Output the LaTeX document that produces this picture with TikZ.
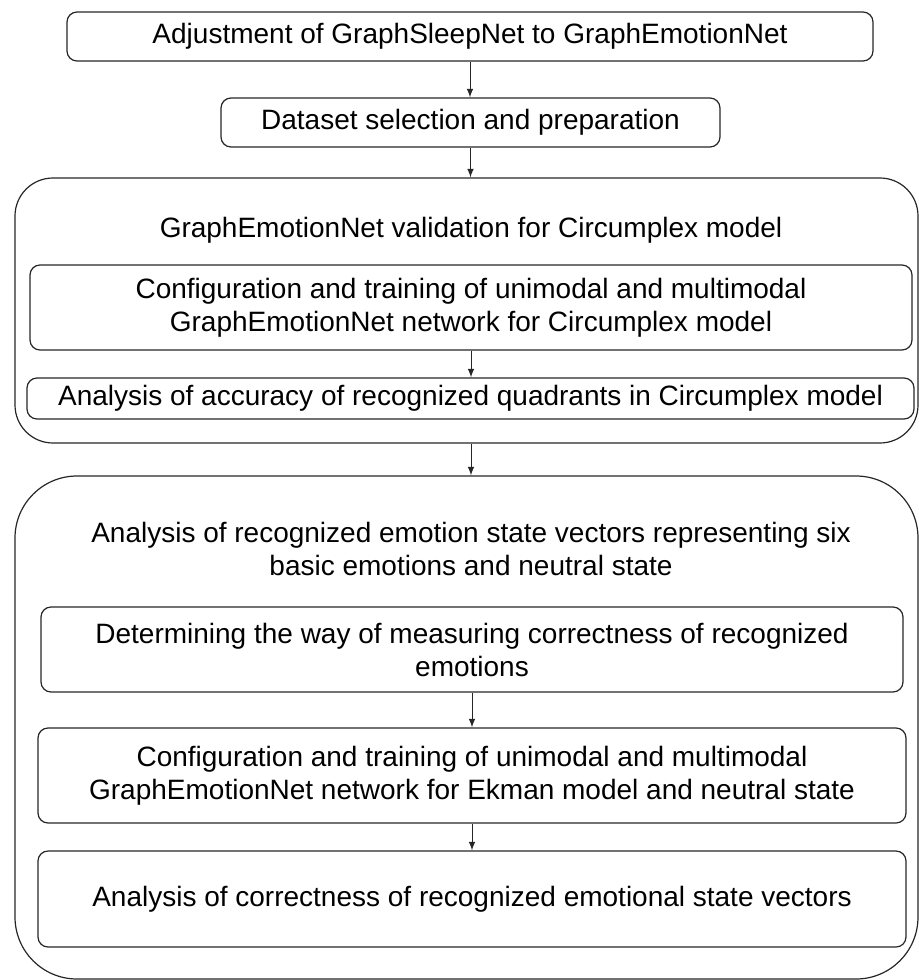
\documentclass[tikz,border=0pt]{standalone}
\usepackage{fontspec}
\setmainfont{Liberation Sans}
\usetikzlibrary{positioning}
\usetikzlibrary{arrows.meta}
\tikzset{
    stepbox/.style = {rectangle, draw=black!85, line width=0.6pt, rounded corners=5pt, align=center, inner sep=0pt},
    groupbox/.style = {rectangle, draw=black!85, line width=0.6pt, align=center, inner sep=0pt},
    titletext/.style = {align=center, inner sep=0pt},
    edgen/.style = {-latex, line width=0.5pt, black!85},
    every picture/.style={font issue=\fontsize{14}{16.5}},
    font issue/.style={execute at begin picture={#1\selectfont}
  }
}

\begin{document}
\begin{tikzpicture}[x=0.5pt, y=0.5pt]
  \useasboundingbox (0,0) rectangle (919,-980);

  \node[stepbox, minimum width=403pt, minimum height=24.5pt] at (470,-36.5) (adj) {Adjustment of GraphSleepNet to GraphEmotionNet};
  \node[stepbox, minimum width=249.5pt, minimum height=24.5pt] at (470.5,-122.5) (data) {Dataset selection and preparation};

  % first group
  \node[groupbox, rounded corners=19pt, minimum width=451.5pt, minimum height=132.5pt] at (466.5,-310.5) (circ) {};
  \node[titletext] at (471,-230) (circtitle) {GraphEmotionNet validation for Circumplex model};
  \node[stepbox, minimum width=441pt, minimum height=42.5pt] at (471,-307.5) (confa) {Configuration and training of unimodal and multimodal\\GraphEmotionNet network for Circumplex model};
  \node[stepbox, minimum width=443.5pt, minimum height=20.5pt] at (470.5,-398.5) (acc) {Analysis of accuracy of recognized quadrants in Circumplex model};

  % second group
  \node[groupbox, rounded corners=31pt, minimum width=451.5pt, minimum height=251.5pt] at (466.5,-727.5) (ekman) {};
  \node[titletext] at (471,-549) (ekmantitle) {Analysis of recognized emotion state vectors representing six\\basic emotions and neutral state};
  \node[stepbox, minimum width=431pt, minimum height=42.5pt] at (472,-649.5) (det) {Determining the way of measuring correctness of recognized\\emotions};
  \node[stepbox, minimum width=434pt, minimum height=47.5pt] at (472,-775.5) (confb) {Configuration and training of unimodal and multimodal\\GraphEmotionNet network for Ekman model and neutral state};
  \node[stepbox, minimum width=434pt, minimum height=48pt] at (472,-899) (corr) {Analysis of correctness of recognized emotional state vectors};

  \draw[edgen] (adj.south) -- (adj.south |- data.north);
  \draw[edgen] (data.south) -- (data.south |- circ.north);
  \draw[edgen] (confa.south) -- (confa.south |- acc.north);
  \draw[edgen] (confa.south |- circ.south) -- (confa.south |- ekman.north);
  \draw[edgen] (det.south) -- (det.south |- confb.north);
  \draw[edgen] (confb.south) -- (confb.south |- corr.north);
\end{tikzpicture}
\end{document}
